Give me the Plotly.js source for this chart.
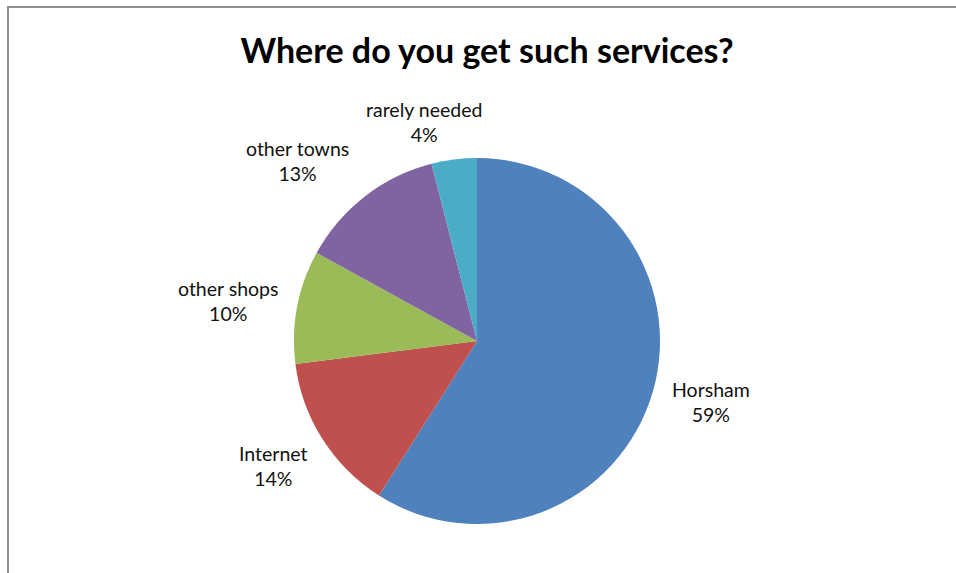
<!DOCTYPE html>
<html>
<head>
<meta charset="utf-8">
<script src="https://cdn.plot.ly/plotly-3.0.1.min.js"></script>
<style>
  html, body { margin: 0; padding: 0; background: #ffffff; }
  #chart { position: absolute; left: 0; top: 0; width: 956px; height: 573px; }
  #frame { position: absolute; left: 7px; top: 6px; width: 960px; height: 580px;
           border-left: 2px solid #8f8f8f; border-top: 2px solid #8f8f8f; pointer-events: none; }
</style>
</head>
<body>
<div id="chart"></div>
<div id="frame"></div>
<script>
// ---- data ----
const categories = ["Horsham", "Internet", "other shops", "other towns", "rarely needed"];
const values = [59, 14, 10, 13, 4];
const colors = ["#4F81BD", "#C0504D", "#9BBB59", "#8064A2", "#4BACC6"];
const chartTitle = "Where do you get such services?";

// ---- layout helpers (pixel geometry of the page) ----
const W = 956, H = 573;
const cx = 477, cy = 341, R = 183;
// label block centres (pixels), one per category
const labelPos = [[711, 402], [273, 466], [228, 301], [297, 161], [424, 122]];

const total = values.reduce((a, b) => a + b, 0);
const pct = values.map(v => Math.round(v / total * 100));

const trace = {
  type: "pie",
  labels: categories,
  values: values,
  sort: false,
  direction: "clockwise",
  rotation: 0,
  marker: { colors: colors, line: { width: 0 } },
  textinfo: "none",
  hoverinfo: "label+percent",
  showlegend: false,
  domain: { x: [(cx - R) / W, (cx + R) / W], y: [1 - (cy + R) / H, 1 - (cy - R) / H] }
};

const annotations = categories.map((c, i) => ({
  xref: "paper", yref: "paper",
  x: labelPos[i][0] / W, y: 1 - labelPos[i][1] / H,
  xanchor: "center", yanchor: "middle",
  text: c + "<br>" + pct[i] + "%",
  showarrow: false,
  align: "center",
  font: { family: "Lato, 'Liberation Sans', sans-serif", size: 19.5, color: "#111111" }
}));

const layout = {
  width: W, height: H,
  margin: { l: 0, r: 0, t: 0, b: 0 },
  paper_bgcolor: "#ffffff",
  title: {
    text: "<b>" + chartTitle + "</b>",
    x: 487 / W, xanchor: "center",
    y: 1 - 51 / H, yanchor: "middle",
    font: { family: "Lato, 'Liberation Sans', sans-serif", size: 34, color: "#000000" }
  },
  annotations: annotations
};

Plotly.newPlot("chart", [trace], layout, { displayModeBar: false, staticPlot: true });
</script>
</body>
</html>
